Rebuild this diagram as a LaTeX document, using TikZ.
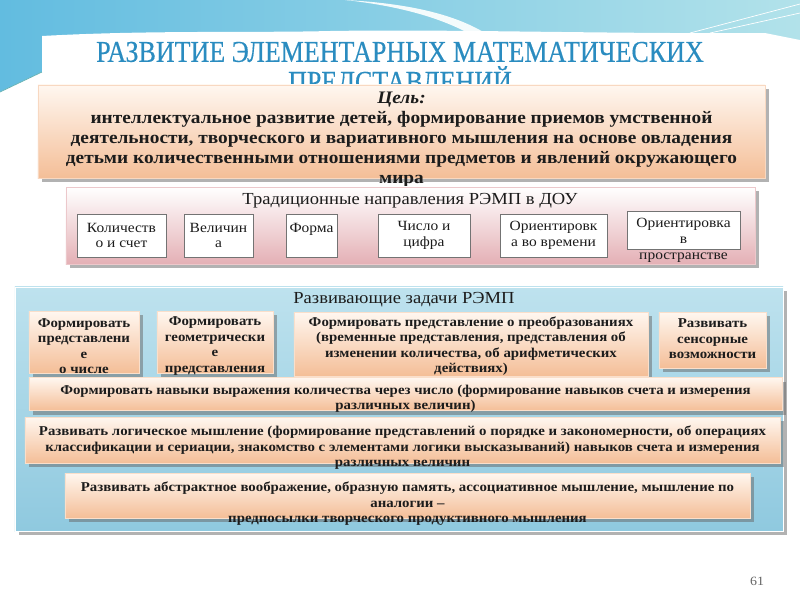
\documentclass[tikz,border=0pt]{standalone}
\usepackage{fontspec}
\setmainfont{Liberation Serif}[FakeStretch=1.1]
\newfontfamily\titlefont{Liberation Serif}[FakeStretch=0.86, FakeBold=0.4]
\usetikzlibrary{shadows}

\definecolor{titleblue}{HTML}{2A8CC0}
\definecolor{ink}{HTML}{1C1C1C}
\definecolor{peach}{HTML}{F4BE97}
\definecolor{peachtop}{HTML}{FFF7F0}
\definecolor{rose}{HTML}{E4B0B5}
\definecolor{panelblue}{HTML}{8FC9DF}
\definecolor{paneltop}{HTML}{BEE2EE}
\definecolor{bannerleft}{HTML}{62BCE0}
\definecolor{bannerright}{HTML}{B2E2EA}

\begin{document}
\begin{tikzpicture}[x=0.025cm, y=-0.025cm,
  every node/.style={text=ink, inner sep=0pt, align=center},
  boxshadow/.style={drop shadow={shadow xshift=3pt, shadow yshift=-3pt, fill=black!60, opacity=.5}},
  goalbox/.style={boxshadow, draw=peach!60, top color=peachtop, bottom color=peach},
  dirbox/.style={boxshadow, draw=rose!70, top color=white, bottom color=rose},
  itembox/.style={draw=black!55, fill=white, font=\fontsize{10}{11.3}\selectfont},
  panel/.style={boxshadow, draw=white, top color=paneltop, bottom color=panelblue},
  taskbox/.style={boxshadow, draw=peach!50, top color=peachtop, bottom color=peach},
  goaltext/.style={font=\bfseries\fontsize{12.5}{14.2}\selectfont},
  tasktext/.style={font=\bfseries\fontsize{9.6}{11}\selectfont},
  heading/.style={font=\fontsize{12}{14}\selectfont}]
  \useasboundingbox (0,0) rectangle (800,600);

  \shade[left color=bannerleft, right color=bannerright] (0,0) rectangle (800,95);
  \fill[white!85!bannerright] (345,0) .. controls (420,4) and (460,18) .. (485,33)
    -- (468,33) .. controls (440,18) and (400,6) .. cycle;
  \fill[white] (42,36) .. controls (150,30) and (250,33) .. (330,31)
    .. controls (450,29) and (600,34) .. (765,33) -- (800,40) -- (800,600)
    -- (0,600) -- (0,92) -- (42,72) -- cycle;
  \draw[white, line width=.5pt] (690,33) -- (800,4) (710,33) -- (800,13);
  \draw[teal!60, line width=.5pt] (0,92) -- (42,72);

  \node[font=\titlefont\fontsize{21.5}{21.3}\selectfont, text=titleblue] (title) at (400,70)
    {РАЗВИТИЕ ЭЛЕМЕНТАРНЫХ МАТЕМАТИЧЕСКИХ\\ПРЕДСТАВЛЕНИЙ};

  \node[goalbox, minimum width=18.18cm, minimum height=2.33cm] (goal) at (401.5,131.5) {};
  \node[goaltext] (goaltext) at (401.5,140) {\textit{Цель:}\\
    интеллектуальное развитие детей, формирование приемов умственной\\
    деятельности, творческого и вариативного мышления на основе овладения\\
    детьми количественными отношениями предметов и явлений окружающего\\
    мира};

  \node[dirbox, minimum width=17.225cm, minimum height=1.925cm] (dir) at (410.5,225.5) {};
  \node[heading] (dirtitle) at (410,201) {Традиционные направления РЭМП в ДОУ};
  \foreach \x/\w/\name/\txt in {121.5/2.225/count/{Количеств\\о и счет},
      218.5/1.725/size/{Величин\\а}, 311.5/1.275/shape/{Форма\\\mbox{}},
      424/2.3/number/{Число и\\цифра}, 553.5/2.675/time/{Ориентировк\\а во времени}}
    \node[itembox, minimum width=\w cm, minimum height=1.075cm] (\name) at (\x,235.5) {\txt};
  \node[itembox, minimum width=2.825cm, minimum height=0.95cm] (space) at (683.5,230) {};
  \node[font=\fontsize{10}{11.3}\selectfont] (spacetext) at (683.5,240) {Ориентировка\\в\\пространстве};

  \node[panel, minimum width=19.2cm, minimum height=6.1cm] (tasks) at (399,409) {};
  \node[heading] (taskstitle) at (404,300) {Развивающие задачи РЭМП};

  \node[taskbox, minimum width=2.75cm, minimum height=1.55cm] (numtask) at (84,342) {};
  \node[tasktext] (numtext) at (84,346) {Формировать\\представлени\\е\\о числе};
  \node[taskbox, minimum width=2.9cm, minimum height=1.55cm] (geotask) at (215,342) {};
  \node[tasktext] (geotext) at (215,346) {Формировать\\геометрически\\е\\представления};
  \node[taskbox, minimum width=8.85cm, minimum height=1.6cm] (transtask) at (471,344) {};
  \node[tasktext] (transtext) at (471,346) {Формировать представление о преобразованиях\\
    (временные представления, представления об\\изменении количества, об арифметических\\действиях)};
  \node[taskbox, minimum width=2.675cm, minimum height=1.4cm] (sensetask) at (712.5,340) {};
  \node[tasktext] (sensetext) at (712.5,339) {Развивать\\сенсорные\\возможности};

  \node[taskbox, minimum width=18.825cm, minimum height=0.825cm] (quanttask) at (405.5,394) {};
  \node[tasktext] (quanttext) at (405.5,399) {Формировать навыки выражения количества через число (формирование навыков счета и измерения\\
    различных величин)};
  \node[taskbox, minimum width=18.875cm, minimum height=1.15cm] (logictask) at (402.5,440) {};
  \node[tasktext] (logictext) at (402.5,448) {Развивать логическое мышление (формирование представлений о порядке и закономерности, об операциях\\
    классификации и сериации, знакомство с элементами логики высказываний) навыков счета и измерения\\
    различных величин};
  \node[taskbox, minimum width=17.125cm, minimum height=1.125cm] (imagtask) at (407.5,495.5) {};
  \node[tasktext] (imagtext) at (407.5,504) {Развивать абстрактное воображение, образную память, ассоциативное мышление, мышление по\\
    аналогии –\\предпосылки творческого продуктивного мышления};

  \node[font=\fontsize{9}{9}\selectfont, text=black!60] (pagenum) at (757,581) {61};
\end{tikzpicture}
\end{document}
